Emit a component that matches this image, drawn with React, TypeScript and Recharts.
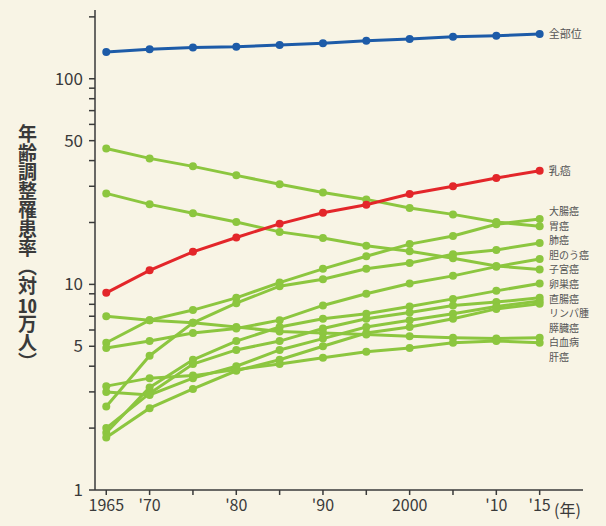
import React from 'react';
import { LineChart, Line, XAxis, YAxis } from 'recharts';

const years = [1965, 1970, 1975, 1980, 1985, 1990, 1995, 2000, 2005, 2010, 2015];
const xTickLabels = ['1965', "'70", '', "'80", '', "'90", '', '2000', '', "'10", "'15"];
const yTicks = [1, 2, 3, 4, 5, 6, 7, 8, 9, 10, 20, 30, 40, 50, 60, 70, 80, 90, 100, 200];
const yLabelled = [1, 5, 10, 50, 100];

// 全部位 / 乳癌
const total = [135, 139, 142, 143, 146, 149, 153, 156, 160, 162, 165];
const breast = [9.1, 11.7, 14.4, 16.9, 19.7, 22.3, 24.4, 27.5, 30.0, 32.9, 35.7];

// other sites (green), in label order from top to bottom
const greenNames = ['大腸癌', '胃癌', '肺癌', '胆のう癌', '子宮癌', '卵巣癌', '直腸癌', 'リンパ腫', '膵臓癌', '白血病', '肝癌'];
const colon = [5.2, 6.7, 7.5, 8.6, 10.2, 11.9, 13.7, 15.7, 17.2, 19.6, 20.8];
const stomach = [45.8, 41.0, 37.5, 33.9, 30.7, 28.0, 25.9, 23.5, 21.9, 20.1, 19.2];
const lung = [2.55, 4.5, 6.5, 8.1, 9.8, 10.6, 11.9, 12.7, 14.0, 14.7, 15.9];
const gallbladder = [4.9, 5.3, 5.8, 6.1, 6.7, 7.9, 9.0, 10.1, 11.0, 12.2, 13.3];
const uterus = [27.7, 24.5, 22.2, 20.1, 18.0, 16.8, 15.4, 14.5, 13.4, 12.3, 11.8];
const ovary = [1.9, 3.15, 4.3, 5.3, 6.2, 6.8, 7.2, 7.8, 8.5, 9.3, 10.1];
const rectum = [2.0, 2.95, 4.1, 4.8, 5.3, 6.1, 6.8, 7.3, 7.9, 8.2, 8.6];
const lymphoma = [3.0, 2.9, 3.5, 4.0, 4.8, 5.45, 6.2, 6.7, 7.2, 7.8, 8.3];
const pancreas = [1.8, 2.5, 3.1, 3.8, 4.3, 5.0, 5.8, 6.2, 6.8, 7.6, 8.05];
const leukemia = [7.0, 6.7, 6.5, 6.2, 5.9, 5.8, 5.7, 5.6, 5.5, 5.45, 5.5];
const liver = [3.2, 3.5, 3.6, 3.85, 4.1, 4.4, 4.7, 4.9, 5.2, 5.3, 5.2];

const greenSeries = [colon, stomach, lung, gallbladder, uterus, ovary, rectum, lymphoma, pancreas, leukemia, liver];

const data = years.map((year, i) => {
  const row: Record<string, number> = { year, total: total[i], breast: breast[i] };
  greenSeries.forEach((s, k) => {
    row['g' + k] = s[i];
  });
  return row;
});

const BLUE = '#1d5ba8';
const RED = '#e3262a';
const GREEN = '#8cc63f';
const INK = '#3a3a3a';
const FONT = '"Noto Sans CJK JP", "Noto Sans", sans-serif';

const endLabel = (text: string) => (props: any) => {
  const { x, y, index } = props;
  if (index !== years.length - 1) return null;
  return (
    <text x={x + 9} y={y} dy={4} fontSize={11} fill="#555" fontFamily={FONT}>
      {text}
    </text>
  );
};

export default function App() {
  return (
    <div
      style={{
        position: 'absolute',
        left: 0,
        top: 0,
        width: 606,
        height: 526,
        background: '#f8f4e5',
        fontFamily: FONT,
        color: INK,
      }}
    >
      <LineChart width={606} height={526} data={data} margin={{ top: 10, right: 23, bottom: 0, left: 0 }}>
        <XAxis
          dataKey="year"
          type="number"
          domain={[1963.7, 2020]}
          allowDataOverflow
          ticks={years}
          tickFormatter={(v: number) => xTickLabels[years.indexOf(v)] ?? ''}
          height={36}
          tickSize={5}
          tickMargin={5}
          stroke={INK}
          strokeWidth={1.5}
          tick={{ fill: INK, fontSize: 16, fontFamily: FONT }}
          interval={0}
        />
        <YAxis
          scale="log"
          type="number"
          domain={[1, 216]}
          allowDataOverflow
          ticks={yTicks}
          tickFormatter={(v: number) => (yLabelled.includes(v) ? String(v) : '')}
          width={95}
          tickSize={6}
          tickMargin={6}
          stroke={INK}
          strokeWidth={1.5}
          tick={{ fill: INK, fontSize: 17, fontFamily: FONT }}
          interval={0}
        />
        {greenSeries.map((_, k) => (
          <Line
            key={k}
            dataKey={'g' + k}
            stroke={GREEN}
            strokeWidth={3}
            dot={{ r: 4, fill: GREEN, stroke: 'none' }}
            isAnimationActive={false}
          />
        ))}
        <Line
          dataKey="breast"
          stroke={RED}
          strokeWidth={3}
          dot={{ r: 4, fill: RED, stroke: 'none' }}
          label={endLabel('乳癌')}
          isAnimationActive={false}
        />
        <Line
          dataKey="total"
          stroke={BLUE}
          strokeWidth={3}
          dot={{ r: 4, fill: BLUE, stroke: 'none' }}
          label={endLabel('全部位')}
          isAnimationActive={false}
        />
      </LineChart>

      <div
        style={{
          position: 'absolute',
          left: 14,
          top: 124,
          writingMode: 'vertical-rl',
          fontSize: 19,
          fontWeight: 700,
          lineHeight: '26px',
          letterSpacing: 0,
          color: INK,
        }}
      >
        年齢調整罹患率（対<span style={{ textCombineUpright: 'all' } as any}>10</span>万人）
      </div>

      <div style={{ position: 'absolute', left: 554, top: 497, fontSize: 16, color: INK }}>(年)</div>

      <div style={{ position: 'absolute', left: 549, top: 204, fontSize: 10, lineHeight: '14.6px', color: '#555' }}>
        {greenNames.map((n) => (
          <div key={n} style={{ height: 14.6 }}>
            {n}
          </div>
        ))}
      </div>
    </div>
  );
}
